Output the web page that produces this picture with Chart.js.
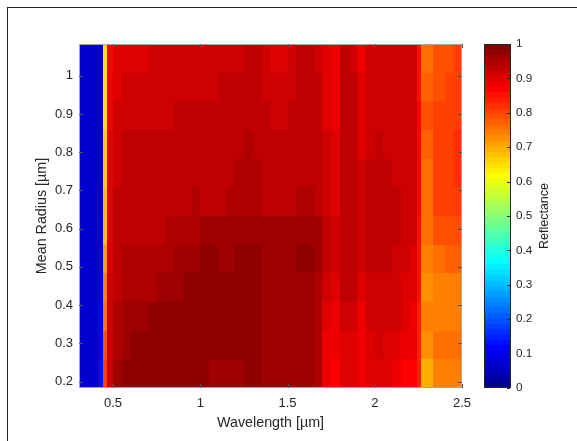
<!DOCTYPE html>
<html lang="en">
<head>
    <meta charset="UTF-8">
    <title>Reflectance map</title>
    <script src="https://cdn.jsdelivr.net/npm/chart.js"></script>
    <style>
        body {
            margin: 0;
            background: #fff;
        }
        .wrap {
            position: relative;
            width: 577px;
            height: 441px;
        }
        .frame {
            position: absolute;
            left: 7px;
            top: 7px;
            right: 0;
            bottom: 0;
            border-left: 1px solid #222;
            border-top: 1px solid #222;
        }
        canvas {
            position: absolute;
            left: 0;
            top: 0;
        }
    </style>
</head>
<body>
    <div class="wrap">
        <div class="frame"></div>
        <canvas id="map" width="577" height="441"></canvas>
    </div>
    <script>
        // wavelength bin edges [µm]
        const wavelength = [0.305, 0.374, 0.42, 0.443, 0.466,
            0.50, 0.55, 0.60, 0.65, 0.70, 0.75, 0.80, 0.85, 0.90, 0.95,
            1.00, 1.05, 1.10, 1.15, 1.20, 1.25, 1.30, 1.35, 1.40, 1.45,
            1.50, 1.55, 1.60, 1.65, 1.70, 1.75, 1.80, 1.85, 1.90, 1.95,
            2.00, 2.05, 2.10, 2.15, 2.20, 2.24, 2.265, 2.335, 2.40, 2.45, 2.50];

        // mean radius bin edges [µm]
        const radius = [0.183, 0.258, 0.333, 0.408, 0.483, 0.558, 0.633, 0.708, 0.783, 0.858, 0.933, 1.008, 1.083];

        // reflectance, one row per radius bin, largest radius first
        const reflectance = [
            [0.072, 0.064, 0.072, 0.642, 0.872, 0.892, 0.897, 0.902, 0.902, 0.907, 0.907, 0.907, 0.907, 0.907, 0.907, 0.912, 0.917, 0.917, 0.917, 0.917, 0.922, 0.922, 0.912, 0.902, 0.897, 0.907, 0.922, 0.922, 0.917, 0.892, 0.877, 0.922, 0.917, 0.887, 0.912, 0.912, 0.912, 0.912, 0.907, 0.907, 0.847, 0.762, 0.792, 0.782, 0.802],
            [0.072, 0.064, 0.072, 0.647, 0.882, 0.902, 0.907, 0.912, 0.912, 0.912, 0.912, 0.912, 0.912, 0.917, 0.917, 0.917, 0.917, 0.922, 0.922, 0.922, 0.927, 0.927, 0.917, 0.912, 0.912, 0.917, 0.922, 0.927, 0.922, 0.897, 0.882, 0.927, 0.927, 0.892, 0.912, 0.912, 0.917, 0.912, 0.907, 0.907, 0.857, 0.777, 0.792, 0.797, 0.807],
            [0.072, 0.064, 0.072, 0.652, 0.887, 0.907, 0.917, 0.917, 0.917, 0.917, 0.917, 0.917, 0.922, 0.922, 0.922, 0.922, 0.922, 0.922, 0.927, 0.927, 0.932, 0.932, 0.922, 0.917, 0.917, 0.922, 0.927, 0.927, 0.927, 0.902, 0.887, 0.927, 0.932, 0.897, 0.917, 0.917, 0.917, 0.917, 0.907, 0.912, 0.862, 0.782, 0.797, 0.797, 0.812],
            [0.072, 0.064, 0.072, 0.657, 0.892, 0.912, 0.922, 0.922, 0.922, 0.922, 0.922, 0.922, 0.922, 0.927, 0.927, 0.927, 0.927, 0.927, 0.932, 0.937, 0.942, 0.937, 0.927, 0.922, 0.922, 0.927, 0.932, 0.932, 0.927, 0.907, 0.892, 0.932, 0.927, 0.902, 0.917, 0.922, 0.917, 0.917, 0.912, 0.912, 0.867, 0.772, 0.797, 0.802, 0.817],
            [0.072, 0.064, 0.072, 0.662, 0.892, 0.917, 0.922, 0.922, 0.922, 0.927, 0.922, 0.927, 0.927, 0.932, 0.932, 0.932, 0.932, 0.932, 0.937, 0.942, 0.947, 0.942, 0.932, 0.927, 0.932, 0.932, 0.937, 0.937, 0.932, 0.912, 0.897, 0.932, 0.927, 0.907, 0.922, 0.927, 0.922, 0.917, 0.912, 0.912, 0.867, 0.757, 0.797, 0.802, 0.817],
            [0.072, 0.064, 0.077, 0.672, 0.897, 0.922, 0.922, 0.927, 0.927, 0.927, 0.927, 0.932, 0.937, 0.937, 0.942, 0.937, 0.937, 0.937, 0.942, 0.947, 0.952, 0.947, 0.937, 0.932, 0.937, 0.937, 0.942, 0.942, 0.937, 0.917, 0.902, 0.932, 0.927, 0.912, 0.922, 0.927, 0.927, 0.922, 0.912, 0.912, 0.867, 0.762, 0.797, 0.802, 0.812],
            [0.072, 0.064, 0.082, 0.687, 0.902, 0.927, 0.927, 0.932, 0.932, 0.937, 0.937, 0.942, 0.947, 0.947, 0.952, 0.957, 0.967, 0.957, 0.957, 0.962, 0.967, 0.967, 0.957, 0.957, 0.957, 0.962, 0.967, 0.967, 0.957, 0.927, 0.912, 0.932, 0.927, 0.912, 0.922, 0.927, 0.927, 0.922, 0.912, 0.907, 0.852, 0.762, 0.787, 0.792, 0.792],
            [0.072, 0.067, 0.092, 0.712, 0.902, 0.927, 0.942, 0.947, 0.947, 0.947, 0.947, 0.952, 0.957, 0.962, 0.967, 0.970, 0.970, 0.967, 0.967, 0.970, 0.970, 0.970, 0.957, 0.957, 0.957, 0.962, 0.970, 0.970, 0.957, 0.922, 0.907, 0.927, 0.927, 0.907, 0.922, 0.922, 0.922, 0.917, 0.907, 0.902, 0.852, 0.737, 0.762, 0.767, 0.772],
            [0.072, 0.067, 0.102, 0.737, 0.907, 0.932, 0.952, 0.952, 0.952, 0.952, 0.962, 0.962, 0.967, 0.970, 0.970, 0.972, 0.972, 0.972, 0.972, 0.972, 0.972, 0.972, 0.957, 0.957, 0.957, 0.957, 0.967, 0.967, 0.952, 0.912, 0.897, 0.922, 0.922, 0.902, 0.917, 0.917, 0.917, 0.912, 0.902, 0.897, 0.847, 0.732, 0.737, 0.737, 0.742],
            [0.072, 0.070, 0.112, 0.762, 0.907, 0.942, 0.957, 0.957, 0.962, 0.970, 0.972, 0.972, 0.972, 0.972, 0.972, 0.972, 0.972, 0.972, 0.972, 0.972, 0.972, 0.972, 0.957, 0.957, 0.957, 0.957, 0.957, 0.957, 0.942, 0.897, 0.882, 0.907, 0.912, 0.887, 0.912, 0.912, 0.907, 0.907, 0.892, 0.887, 0.842, 0.737, 0.737, 0.737, 0.747],
            [0.072, 0.070, 0.122, 0.792, 0.912, 0.950, 0.962, 0.974, 0.974, 0.974, 0.974, 0.974, 0.974, 0.974, 0.974, 0.974, 0.974, 0.974, 0.974, 0.974, 0.974, 0.974, 0.957, 0.957, 0.957, 0.957, 0.957, 0.957, 0.942, 0.887, 0.877, 0.897, 0.902, 0.882, 0.902, 0.907, 0.902, 0.897, 0.882, 0.877, 0.837, 0.732, 0.762, 0.762, 0.757],
            [0.072, 0.070, 0.127, 0.812, 0.912, 0.962, 0.977, 0.977, 0.977, 0.977, 0.977, 0.977, 0.977, 0.977, 0.977, 0.977, 0.962, 0.962, 0.962, 0.967, 0.977, 0.977, 0.957, 0.957, 0.957, 0.957, 0.957, 0.957, 0.942, 0.882, 0.872, 0.892, 0.897, 0.877, 0.897, 0.897, 0.892, 0.887, 0.872, 0.867, 0.832, 0.702, 0.737, 0.737, 0.742]
        ];

        const xTicks = [0.5, 1, 1.5, 2, 2.5];
        const yTicks = [0.2, 0.3, 0.4, 0.5, 0.6, 0.7, 0.8, 0.9, 1];
        const cbTicks = [0, 0.1, 0.2, 0.3, 0.4, 0.5, 0.6, 0.7, 0.8, 0.9, 1];

        const FONT = "'Liberation Sans', Arial, Helvetica, sans-serif";
        const TEXT = '#262626';

        // MATLAB jet(m)
        function jet(m) {
            const n = Math.ceil(m / 4);
            const u = [];
            for (let i = 1; i <= n; i++) u.push(i / n);
            for (let i = 1; i < n; i++) u.push(1);
            for (let i = n; i >= 1; i--) u.push(i / n);
            const J = Array.from({ length: m }, () => [0, 0, 0]);
            const g0 = Math.ceil(n / 2) - (m % 4 === 1 ? 1 : 0);
            u.forEach((v, i) => {
                const g = g0 + i + 1, r = g + n, b = g - n;
                if (r >= 1 && r <= m) J[r - 1][0] = v;
                if (g >= 1 && g <= m) J[g - 1][1] = v;
                if (b >= 1 && b <= m) J[b - 1][2] = v;
            });
            return J.map(c => `rgb(${Math.round(c[0] * 255)},${Math.round(c[1] * 255)},${Math.round(c[2] * 255)})`);
        }
        const cmap = jet(64);
        const colorOf = v => cmap[Math.max(0, Math.min(63, Math.floor(v * 64)))];

        const cbLeft = 484, cbWidth = 27;

        function line(ctx, x0, y0, x1, y1) {
            ctx.beginPath();
            ctx.moveTo(x0, y0);
            ctx.lineTo(x1, y1);
            ctx.stroke();
        }

        // fixed box sizes; drop the label overhang padding chart.js adds
        const fixSize = (w, h) => s => {
            if (w) s.width = w;
            if (h) s.height = h;
            s.paddingTop = s.paddingBottom = s.paddingLeft = s.paddingRight = 0;
        };

        const heatmap = {
            id: 'heatmap',
            beforeDatasetsDraw(chart) {
                const { ctx, chartArea: a, scales: { x, y } } = chart;
                const nr = radius.length - 1;
                ctx.save();
                ctx.beginPath();
                ctx.rect(a.left, a.top, a.right - a.left, a.bottom - a.top);
                ctx.clip();
                reflectance.forEach((row, i) => {
                    const y0 = Math.round(y.getPixelForValue(radius[nr - i]));
                    const y1 = Math.round(y.getPixelForValue(radius[nr - i - 1]));
                    row.forEach((v, j) => {
                        const x0 = Math.round(x.getPixelForValue(wavelength[j]));
                        const x1 = Math.round(x.getPixelForValue(wavelength[j + 1]));
                        ctx.fillStyle = colorOf(v);
                        ctx.fillRect(x0, y0, x1 - x0, y1 - y0);
                    });
                });
                ctx.restore();
            },
            afterDraw(chart) {
                const { ctx, chartArea: a, scales: { x, y, cb } } = chart;
                ctx.save();

                // axes box and inward ticks
                ctx.strokeStyle = '#a6a6a6';
                ctx.lineWidth = 1;
                ctx.strokeRect(a.left + 0.5, a.top + 0.5, a.right - a.left - 1, a.bottom - a.top - 1);
                ctx.strokeStyle = '#555';
                xTicks.forEach(v => {
                    const p = Math.round(x.getPixelForValue(v)) + 0.5;
                    line(ctx, p, a.bottom, p, a.bottom - 4);
                    line(ctx, p, a.top, p, a.top + 4);
                });
                yTicks.forEach(v => {
                    const p = Math.round(y.getPixelForValue(v)) + 0.5;
                    line(ctx, a.left, p, a.left + 4, p);
                    line(ctx, a.right, p, a.right - 4, p);
                });

                // colorbar
                const top = cb.getPixelForValue(1), bottom = cb.getPixelForValue(0);
                cmap.forEach((c, i) => {
                    const y0 = Math.round(cb.getPixelForValue((i + 1) / 64));
                    const y1 = Math.round(cb.getPixelForValue(i / 64));
                    ctx.fillStyle = c;
                    ctx.fillRect(cbLeft, y0, cbWidth, y1 - y0);
                });
                ctx.strokeStyle = '#262626';
                ctx.strokeRect(cbLeft + 0.5, Math.round(top) + 0.5, cbWidth - 1, Math.round(bottom - top) - 1);
                cbTicks.forEach(v => {
                    const p = Math.round(cb.getPixelForValue(v)) + 0.5;
                    line(ctx, cbLeft + cbWidth - 1, p, cbLeft + cbWidth - 4, p);
                });

                // colorbar label
                ctx.translate(545, (top + bottom) / 2);
                ctx.rotate(-Math.PI / 2);
                ctx.fillStyle = TEXT;
                ctx.font = `12.5px ${FONT}`;
                ctx.textAlign = 'center';
                ctx.textBaseline = 'middle';
                ctx.fillText('Reflectance', 0, 0);
                ctx.restore();
            }
        };

        const tickFont = { family: FONT, size: 13 };
        const labelFont = { family: FONT, size: 14.3 };

        new Chart(document.getElementById('map'), {
            type: 'scatter',
            data: { datasets: [{ data: [], pointRadius: 0 }] },
            plugins: [heatmap],
            options: {
                responsive: false,
                animation: false,
                layout: { autoPadding: false, padding: { left: 0, top: 44, right: 0, bottom: 0 } },
                plugins: {
                    legend: { display: false },
                    tooltip: { enabled: false }
                },
                scales: {
                    x: {
                        type: 'linear',
                        min: 0.305,
                        max: 2.5,
                        grid: { display: false, drawTicks: false },
                        border: { display: false },
                        afterBuildTicks: s => { s.ticks = xTicks.map(v => ({ value: v })); },
                        afterFit: fixSize(0, 53),
                        ticks: { padding: 8, color: TEXT, font: tickFont, maxRotation: 0, autoSkip: false, callback: v => String(v) },
                        title: { display: true, text: 'Wavelength [µm]', color: TEXT, font: labelFont, padding: { top: 0, bottom: 9 } }
                    },
                    y: {
                        type: 'linear',
                        min: 0.183,
                        max: 1.083,
                        grid: { display: false, drawTicks: false },
                        border: { display: false },
                        afterBuildTicks: s => { s.ticks = yTicks.map(v => ({ value: v })); },
                        afterFit: fixSize(79, 0),
                        ticks: { padding: 6, color: TEXT, font: tickFont, autoSkip: false, callback: v => String(v) },
                        title: { display: true, text: 'Mean Radius [µm]', color: TEXT, font: labelFont, padding: { top: 33, bottom: 0 } }
                    },
                    cb: {
                        type: 'linear',
                        position: 'right',
                        min: 0,
                        max: 1,
                        grid: { display: false, drawTicks: false },
                        border: { display: false },
                        afterBuildTicks: s => { s.ticks = cbTicks.map(v => ({ value: v })); },
                        afterFit: fixSize(115, 0),
                        ticks: { padding: 54, color: TEXT, font: { family: FONT, size: 11.7 }, autoSkip: false, callback: v => String(v) }
                    }
                }
            }
        });
    </script>
</body>
</html>
